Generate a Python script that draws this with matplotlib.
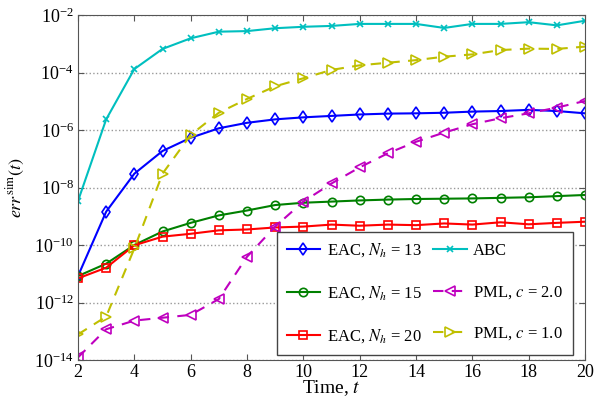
import matplotlib
matplotlib.use("Agg")
import matplotlib.pyplot as plt
import numpy as np
from matplotlib.ticker import FixedLocator, NullLocator, LogFormatterSciNotation

plt.rcParams['font.family'] = ['Liberation Serif', 'DejaVu Serif']
plt.rcParams['mathtext.fontset'] = 'stix'

t = list(range(2, 21))
# log10 of error values
eac13 = [-11.08, -8.84, -7.52, -6.73, -6.27, -5.94, -5.75, -5.63, -5.56, -5.51, -5.46, -5.43, -5.42, -5.40, -5.36, -5.34, -5.30, -5.34, -5.42]
eac15 = [-11.08, -10.65, -10.00, -9.53, -9.23, -8.97, -8.80, -8.61, -8.53, -8.49, -8.45, -8.42, -8.40, -8.39, -8.38, -8.36, -8.34, -8.30, -8.26]
eac20 = [-11.16, -10.79, -10.01, -9.71, -9.61, -9.49, -9.46, -9.39, -9.36, -9.29, -9.33, -9.29, -9.31, -9.25, -9.29, -9.21, -9.28, -9.23, -9.19]
abc = [-8.47, -5.63, -3.88, -3.18, -2.81, -2.58, -2.56, -2.46, -2.41, -2.38, -2.31, -2.31, -2.31, -2.45, -2.31, -2.31, -2.25, -2.36, -2.20]
pml2 = [-13.91, -12.93, -12.63, -12.53, -12.43, -11.88, -10.41, -9.36, -8.49, -7.86, -7.30, -6.81, -6.41, -6.09, -5.80, -5.59, -5.42, -5.22, -4.99]
pml1 = [-13.11, -12.49, -10.12, -7.52, -6.17, -5.40, -4.92, -4.48, -4.20, -3.91, -3.75, -3.66, -3.57, -3.45, -3.37, -3.22, -3.17, -3.18, -3.10]

labels = [r'EAC, $N_h$ = 13', r'EAC, $N_h$ = 15', r'EAC, $N_h$ = 20',
          'ABC', r'PML, $c$ = 2.0', r'PML, $c$ = 1.0']

fig = plt.figure(figsize=(6.0, 3.98), dpi=100)
ax = fig.add_axes([78/600, 38/398, 507/600, 345/398])

def p(v):
    return 10.0 ** np.array(v)

ax.plot(t, p(eac13), color='#0000ff', lw=1.5, marker='d', ms=6, mfc='none', mew=1.2, label=labels[0])
ax.plot(t, p(eac15), color='#008000', lw=1.5, marker='o', ms=6, mfc='none', mew=1.2, label=labels[1])
ax.plot(t, p(eac20), color='#ff0000', lw=1.5, marker='s', ms=5.5, mfc='none', mew=1.2, label=labels[2])
ax.plot(t, p(abc), color='#00bfbf', lw=1.5, marker='x', ms=5, mew=1.2, label=labels[3])
ax.plot(t, p(pml2), color='#bf00bf', lw=1.5, ls=(0, (5, 4)), marker='<', ms=7, mfc='none', mew=1.2, label=labels[4])
ax.plot(t, p(pml1), color='#bfbf00', lw=1.5, ls=(0, (5, 4)), marker='>', ms=7, mfc='none', mew=1.2, label=labels[5])

ax.set_yscale('log')
ax.set_xlim(2, 20)
ax.set_ylim(1e-14, 1e-2)
ax.set_xticks(range(2, 21, 2))
ax.yaxis.set_major_locator(FixedLocator([10.0 ** k for k in range(-14, -1, 2)]))
ax.yaxis.set_minor_locator(NullLocator())
ax.yaxis.set_major_formatter(LogFormatterSciNotation())
ax.grid(True, axis='y', ls=':', color='#999999', lw=1.0)
ax.tick_params(direction='in', top=True, right=True, labelsize=13, length=4, color='#555555', pad=3)
for s in ax.spines.values():
    s.set_color('#555555')

ax.set_xlabel(r'Time, $t$', fontsize=14, labelpad=-2)
ax.set_ylabel(r'$err^{\mathrm{sim}}(t)$', fontsize=13, labelpad=5)

leg = ax.legend(ncol=2, loc='lower right', bbox_to_anchor=(0.976, 0.0145), borderaxespad=0,
                fontsize=12, fancybox=False, edgecolor='#444444', framealpha=1,
                labelspacing=1.5, handlelength=2.0, handletextpad=0.4, columnspacing=0.7,
                borderpad=0.6)
leg.get_frame().set_linewidth(1.0)

fig.savefig('out.png', dpi=100)
